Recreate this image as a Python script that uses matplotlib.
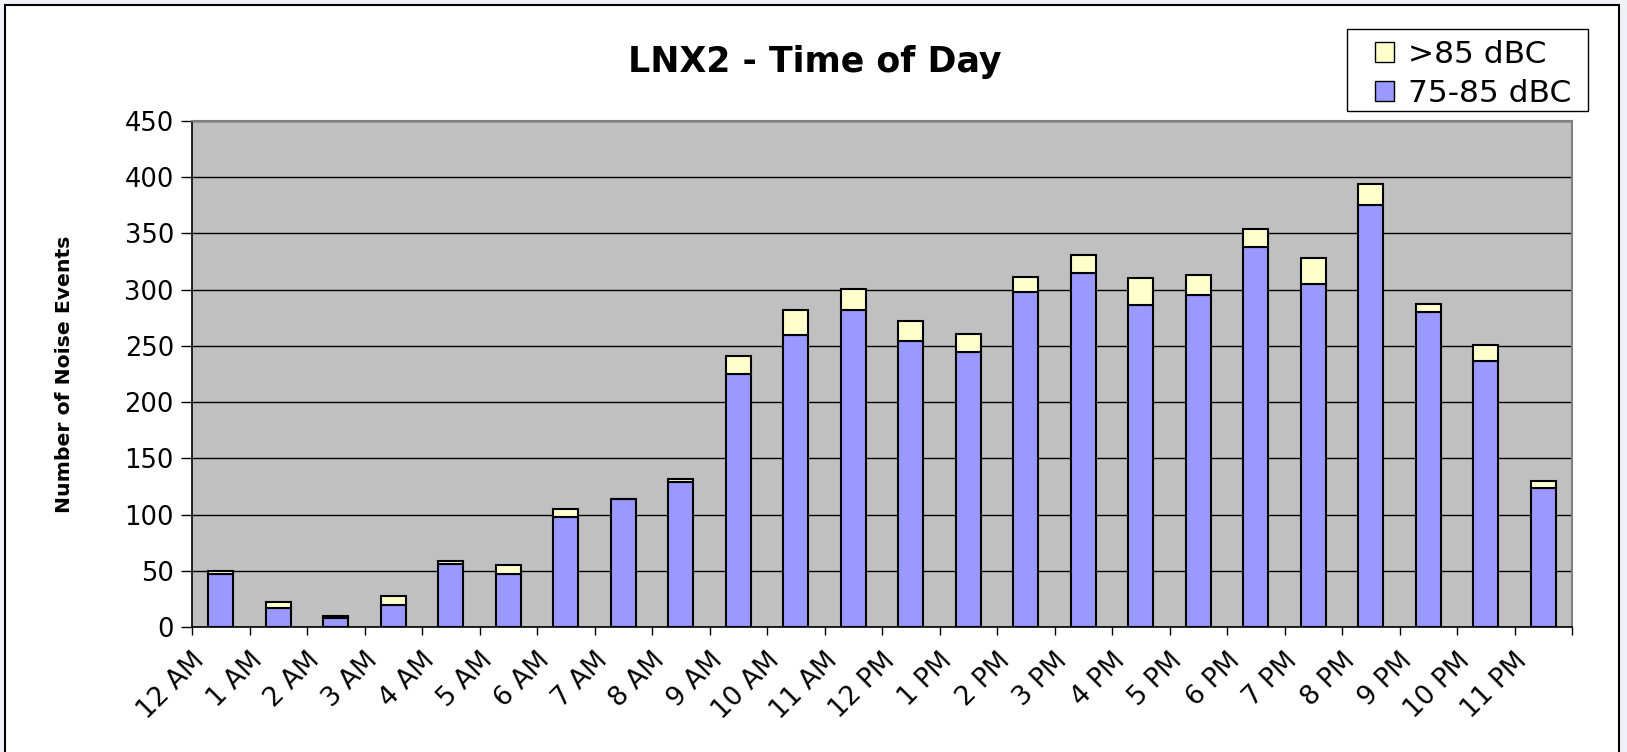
import numpy as np
import matplotlib
matplotlib.use("Agg")
import matplotlib.pyplot as plt
from matplotlib.patches import Rectangle
from matplotlib.transforms import ScaledTranslation


hours = ["12 AM", "1 AM", "2 AM", "3 AM", "4 AM", "5 AM", "6 AM", "7 AM",
         "8 AM", "9 AM", "10 AM", "11 AM", "12 PM", "1 PM", "2 PM", "3 PM",
         "4 PM", "5 PM", "6 PM", "7 PM", "8 PM", "9 PM", "10 PM", "11 PM"]

# 75-85 dBC events per hour
events_75_85 = [47, 17, 8, 20, 56, 47, 98, 114, 129, 225, 260, 282,
                254, 245, 298, 315, 286, 295, 338, 305, 375, 280, 237, 124]

# >85 dBC events per hour (stacked on top)
events_85_up = [3, 5, 2, 8, 3, 8, 7, 0, 3, 16, 22, 19,
                18, 16, 13, 16, 24, 18, 16, 23, 19, 7, 14, 6]

BLUE = "#9999FF"
YELLOW = "#FFFFCC"
PLOT_BG = "#C0C0C0"

W, H = 1627, 752
fig = plt.figure(figsize=(W / 100, H / 100), dpi=100)
fig.patch.set_facecolor("#EEF1F6")

# white slide area with black frame
fig.patches.append(Rectangle((5 / W, -0.1), 1614 / W, 1.1 - 5 / H,
                             transform=fig.transFigure, facecolor="white",
                             edgecolor="black", linewidth=1.5, zorder=-5))

ax = fig.add_axes([192 / W, 1 - 627 / H, 1380 / W, 506 / H])
ax.set_zorder(2)
ax.set_facecolor(PLOT_BG)

x = np.arange(len(hours)) + 0.5
b1 = ax.bar(x, events_75_85, width=0.44, color=BLUE, edgecolor="black",
            linewidth=1.5, zorder=3, label="75-85 dBC")
b2 = ax.bar(x, events_85_up, width=0.44, bottom=events_75_85, color=YELLOW,
            edgecolor="black", linewidth=1.5, zorder=3, label=">85 dBC")

ax.set_xlim(0, len(hours))
ax.set_ylim(0, 450)
ax.set_yticks(np.arange(0, 451, 50))
ax.yaxis.grid(True, color="black", linewidth=1.0, zorder=1)
ax.set_axisbelow(True)

ax.set_xticks(np.arange(len(hours) + 1))
ax.set_xticklabels(hours + [""])

ax.tick_params(axis="both", direction="out", width=1.0, colors="black")
ax.tick_params(axis="x", length=5.5, pad=16, labelsize=19)
ax.tick_params(axis="y", length=8, pad=5, labelsize=18.5)

shift = ScaledTranslation(6.5 / 72, 0, fig.dpi_scale_trans)
for lbl in ax.get_xticklabels():
    lbl.set_rotation(45)
    lbl.set_rotation_mode("anchor")
    lbl.set_ha("right")
    lbl.set_va("center")
    lbl.set_transform(lbl.get_transform() + shift)

for side in ["top", "right"]:
    ax.spines[side].set_color("#808080")
    ax.spines[side].set_linewidth(1.5)
for side in ["left", "bottom"]:
    ax.spines[side].set_color("black")
    ax.spines[side].set_linewidth(1.2)

fig.text(815 / W, 1 - 62 / H, "LNX2 - Time of Day", ha="center", va="center",
         fontsize=25, fontweight="bold")

fig.text(65 / W, 1 - 374 / H, "Number of Noise Events", rotation=90,
         ha="center", va="center", fontsize=14.7, fontweight="bold")

# legend box drawn separately so the padding can match the original
fig.patches.append(Rectangle((1347 / W, 1 - 111 / H), 241 / W, 82 / H,
                             transform=fig.transFigure, facecolor="white",
                             edgecolor="black", linewidth=1.0, zorder=3))
leg = fig.legend([b2, b1], [">85 dBC", "75-85 dBC"], loc="upper left",
                 bbox_to_anchor=(1375 / W, 1 - 40 / H), fontsize=22.5,
                 frameon=False, handlelength=0.6, handleheight=0.6,
                 handletextpad=0.45, borderpad=0, labelspacing=0.32,
                 borderaxespad=0)
leg.set_zorder(4)
for h in leg.legend_handles:
    h.set_linewidth(1.0)

fig.savefig("out.png", dpi=100, facecolor=fig.get_facecolor())
